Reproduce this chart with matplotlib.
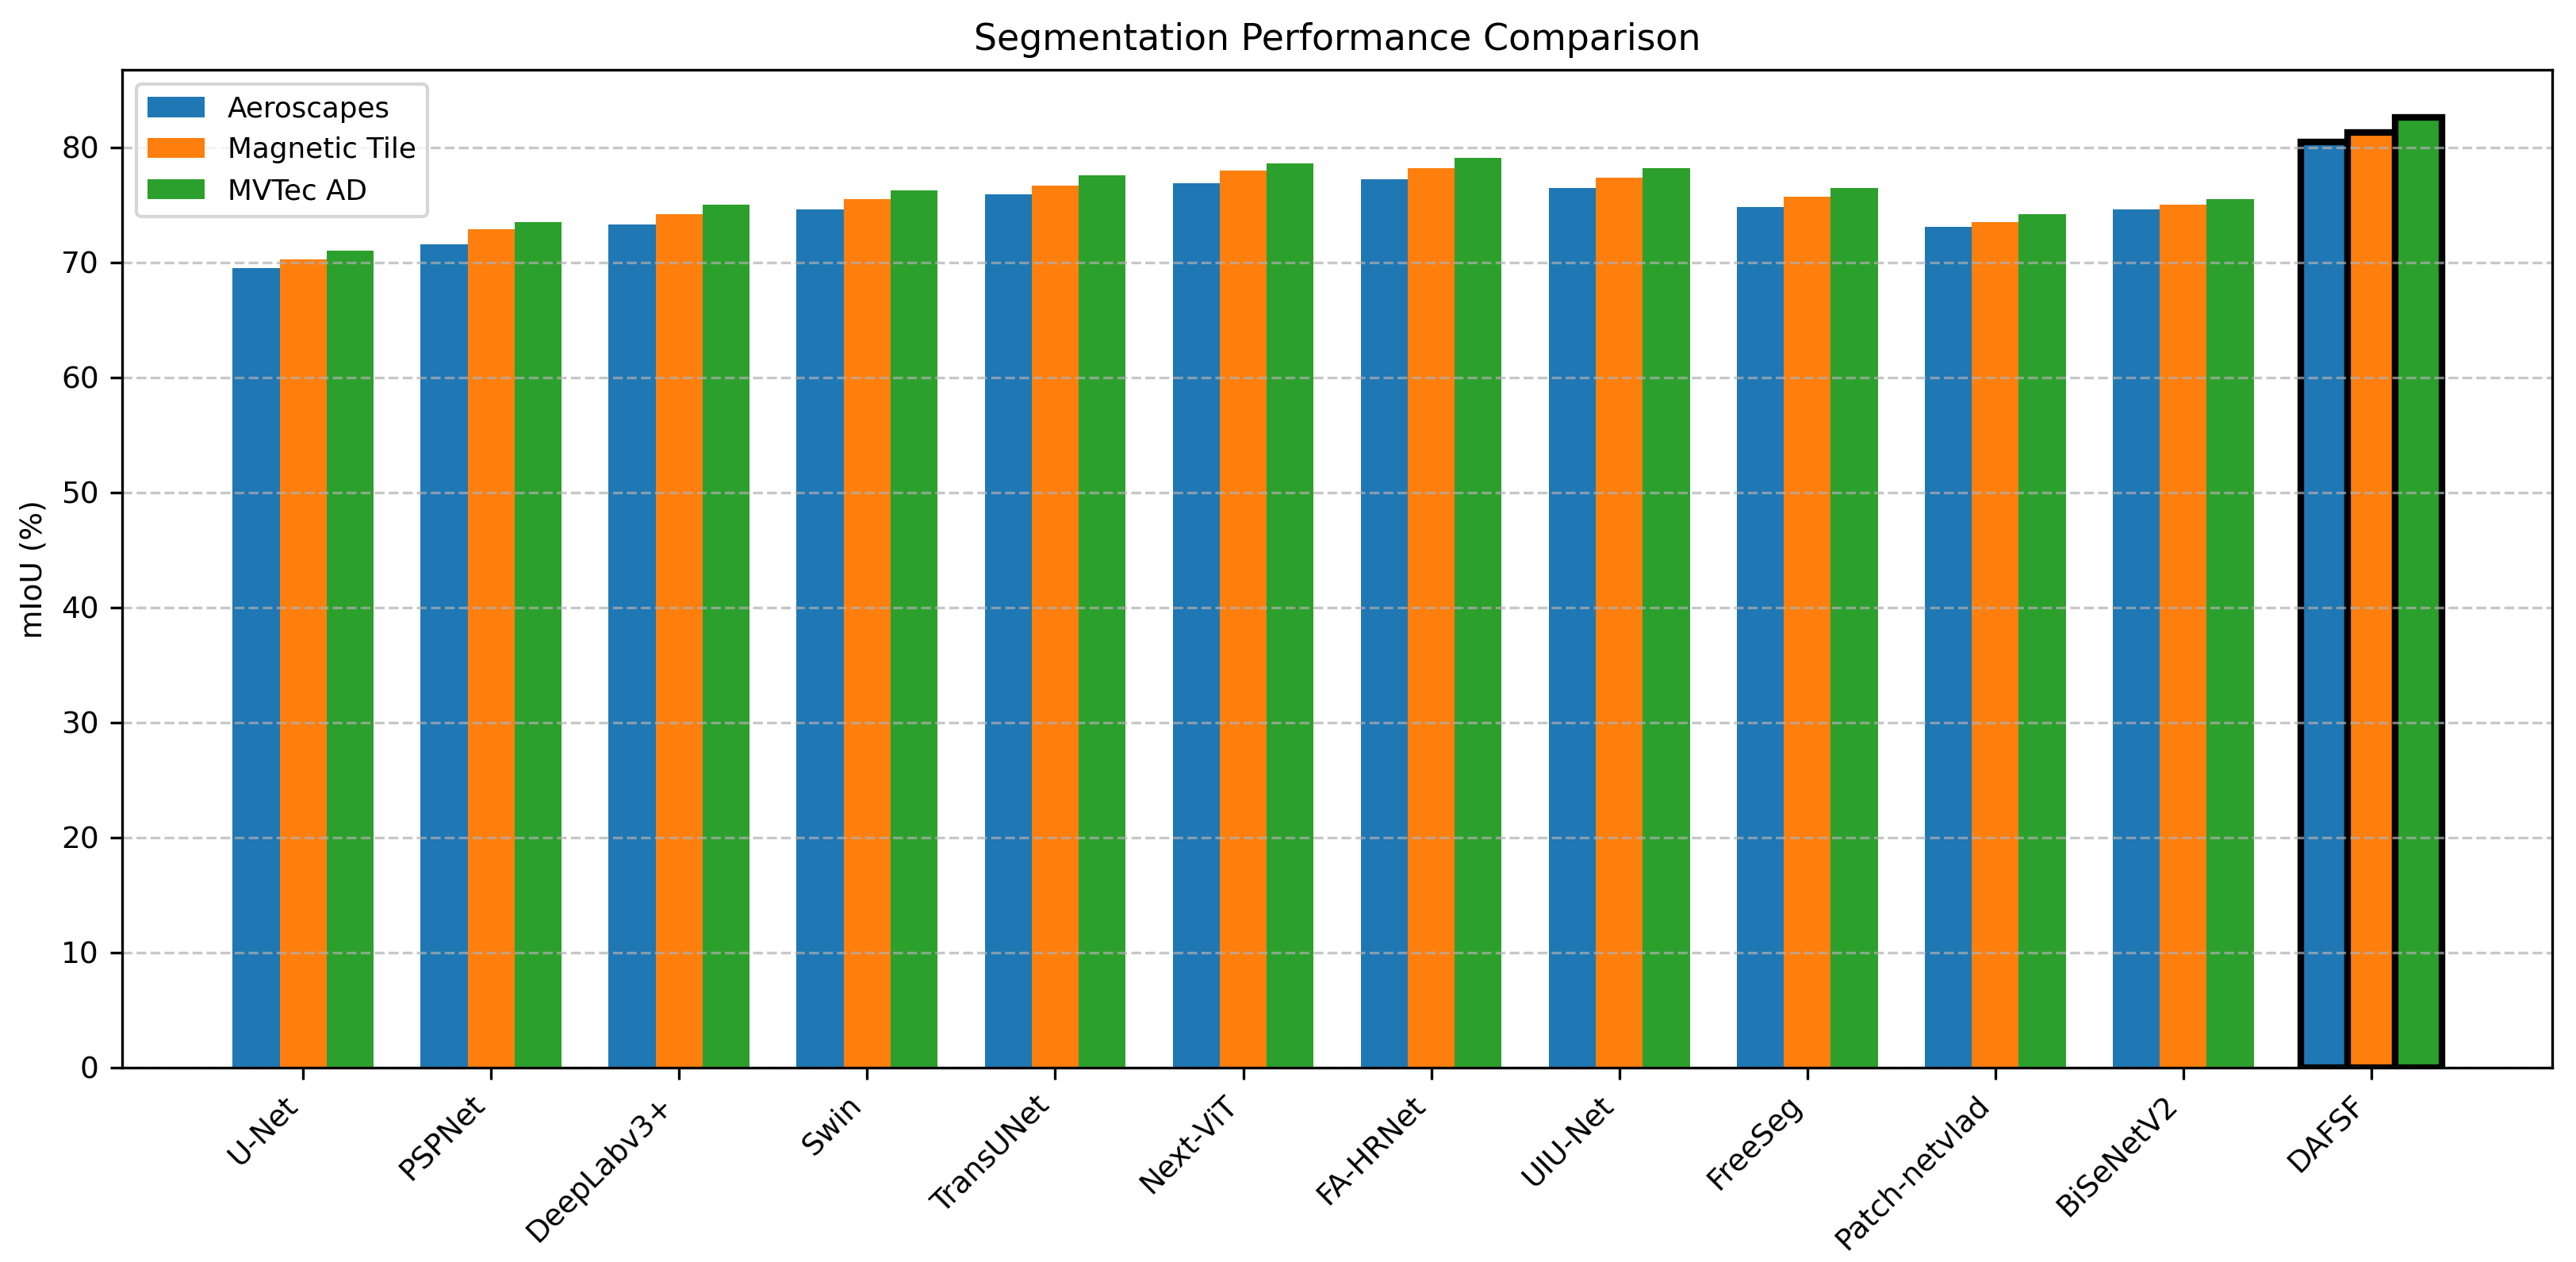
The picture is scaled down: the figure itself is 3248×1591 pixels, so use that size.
import numpy as np
import matplotlib
matplotlib.use('Agg')
import matplotlib.pyplot as plt

# Data
methods = ['U-Net', 'PSPNet', 'DeepLabv3+', 'Swin', 'TransUNet', 'Next-ViT',
           'FA-HRNet', 'UIU-Net', 'FreeSeg', 'Patch-netvlad', 'BiSeNetV2', 'DAFSF']
aeroscapes = [69.5, 71.6, 73.3, 74.6, 75.9, 76.9, 77.2, 76.5, 74.8, 73.1, 74.6, 80.5]
magnetic_tile = [70.3, 72.9, 74.2, 75.5, 76.7, 78.0, 78.2, 77.4, 75.7, 73.5, 75.0, 81.3]
mvtec_ad = [71.0, 73.5, 75.0, 76.3, 77.6, 78.6, 79.1, 78.2, 76.5, 74.2, 75.5, 82.6]

series = [('Aeroscapes', aeroscapes), ('Magnetic Tile', magnetic_tile), ('MVTec AD', mvtec_ad)]
colors = ['#1f77b4', '#ff7f0e', '#2ca02c']

fig, ax = plt.subplots(figsize=(3248 / 300, 1591 / 300), dpi=300)
fig.subplots_adjust(left=0.0474, right=0.9908, top=0.9445, bottom=0.154)

x = np.arange(len(methods))
width = 0.25
for i, (name, vals) in enumerate(series):
    bars = ax.bar(x + (i - 1) * width, vals, width, label=name, color=colors[i])
    # highlight the proposed method
    bars[-1].set_edgecolor('black')
    bars[-1].set_linewidth(2)

ax.set_title('Segmentation Performance Comparison', fontsize=11)
ax.set_ylabel('mIoU (%)', fontsize=9)
ax.set_xticks(x)
ax.set_xticklabels(methods, rotation=45, ha='right', fontsize=9)
ax.tick_params(axis='y', labelsize=9)
ax.legend(loc='upper left', fontsize=8.6)
ax.grid(axis='y', linestyle='--', alpha=0.7)

plt.savefig('out.png', dpi=300)
